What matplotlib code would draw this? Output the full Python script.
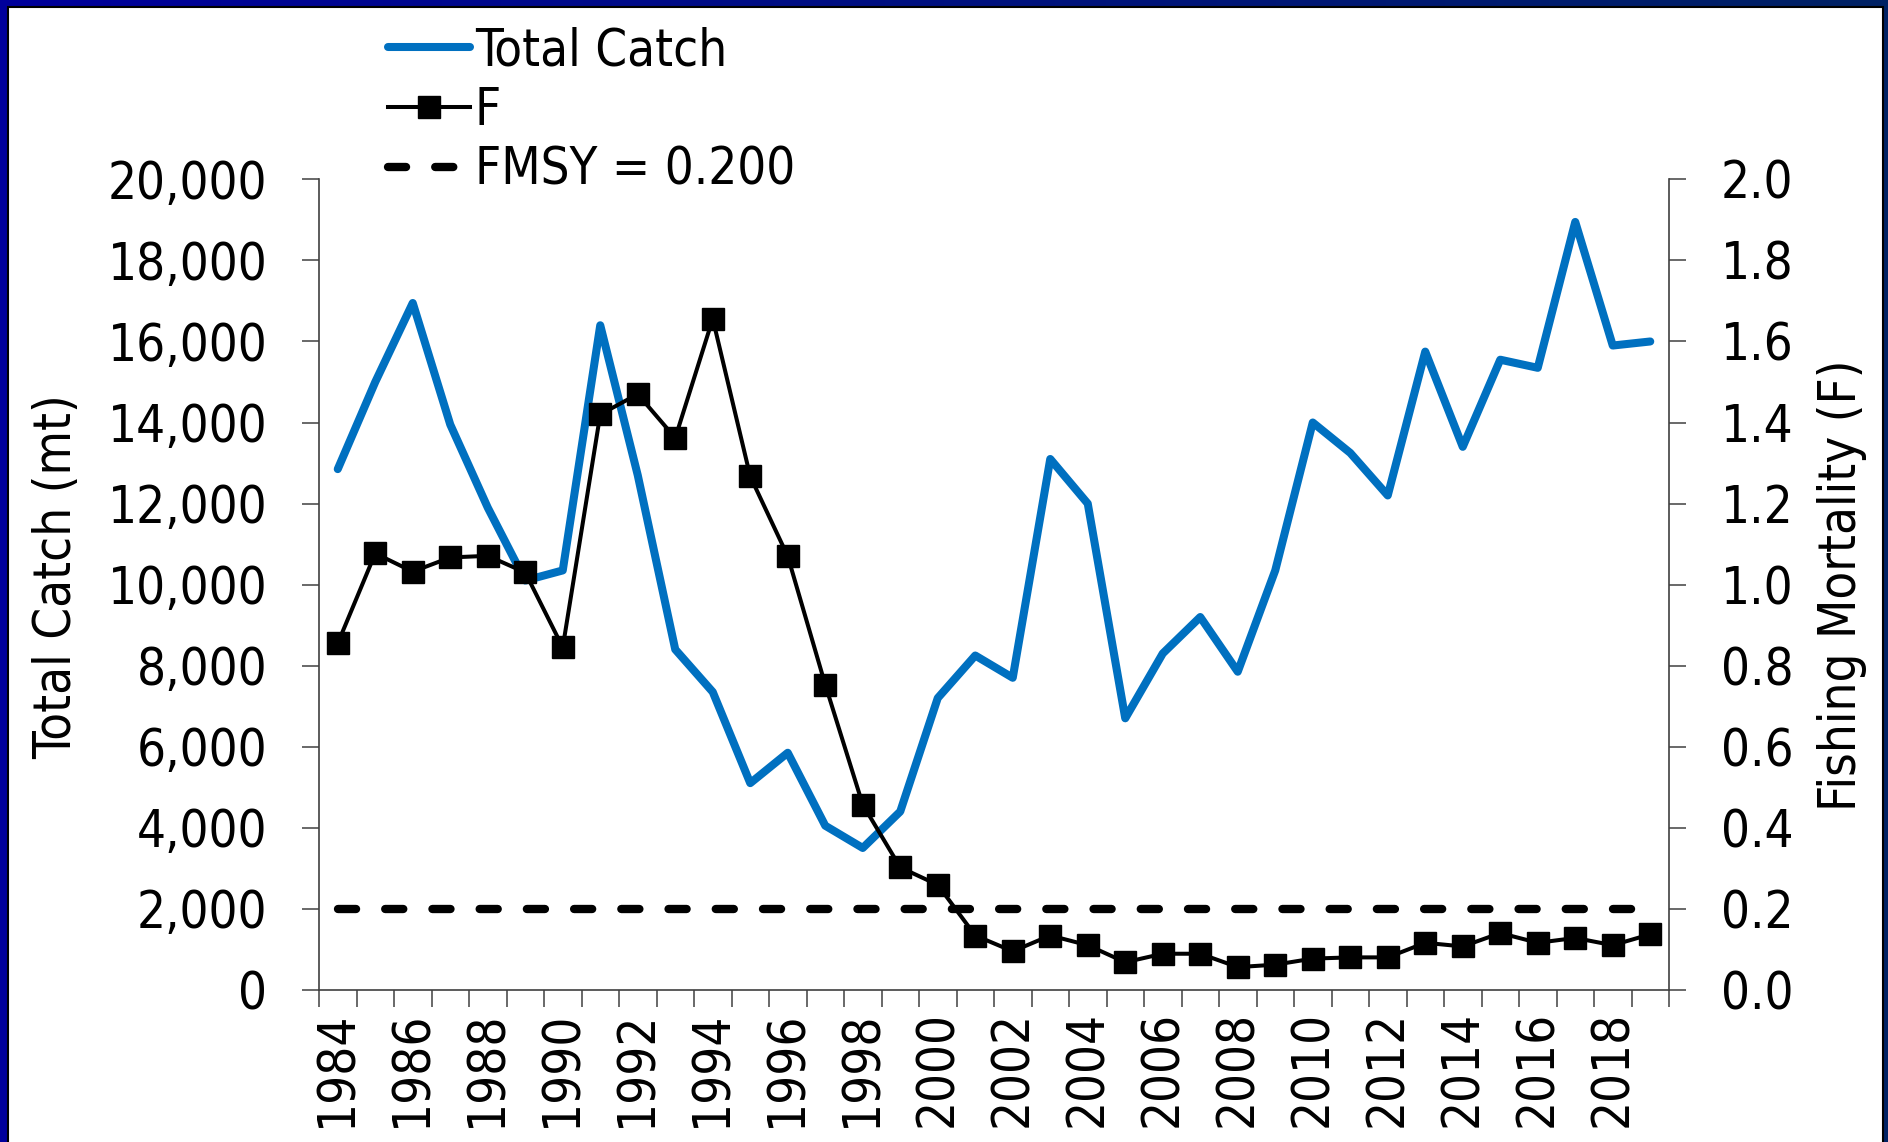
import numpy as np
import matplotlib
matplotlib.use("Agg")
import matplotlib.pyplot as plt
from matplotlib import font_manager as fm
from matplotlib.patches import Rectangle
from matplotlib.ticker import FixedLocator, FixedFormatter, NullFormatter, FuncFormatter

# ---------------- data ----------------
years = list(range(1984, 2020))
total_catch = [12850, 15000, 16950, 13950, 11900, 10100, 10350, 16400, 12700, 8400,
               7350, 5100, 5850, 4050, 3500, 4400, 7200, 8250, 7700, 13100,
               12000, 6700, 8300, 9200, 7850, 10350, 14000, 13250, 12200, 15750,
               13400, 15550, 15350, 18950, 15900, 16000]
f_values = [0.855, 1.077, 1.032, 1.067, 1.071, 1.030, 0.845, 1.420, 1.470, 1.362,
            1.656, 1.267, 1.070, 0.753, 0.457, 0.302, 0.259, 0.134, 0.095, 0.134,
            0.110, 0.068, 0.089, 0.089, 0.056, 0.062, 0.077, 0.080, 0.080, 0.116,
            0.107, 0.140, 0.116, 0.128, 0.110, 0.137]
fmsy = 0.200
fmsy_values = [fmsy] * len(years)
year_labels = list(range(1984, 2019, 2))
catch_ticks = list(range(0, 20001, 2000))
f_ticks = [0.0, 0.2, 0.4, 0.6, 0.8, 1.0, 1.2, 1.4, 1.6, 1.8, 2.0]
labels = ["Total Catch", "F", "FMSY = 0.200"]

# ---------------- fonts ----------------
fp = fm.FontProperties(family="DejaVu Sans", stretch="condensed")
path = fm.findfont(fp)
condensed = "Condensed" in path
plt.rcParams["font.family"] = "DejaVu Sans"
if condensed:
    plt.rcParams["font.stretch"] = "condensed"
    FS = 36.5
else:
    FS = 34
plt.rcParams["lines.scale_dashes"] = False

W, H = 1888, 1142
fig = plt.figure(figsize=(W / 100, H / 100), dpi=100)

# background frame with gradient blue border
bg = fig.add_axes([0, 0, 1, 1], zorder=-10)
t = np.linspace(0, 1, 256)
left_c = np.array([0, 0, 155]) / 255
right_c = np.array([0, 34, 100]) / 255
grad = (left_c[None, :] * (1 - t[:, None]) + right_c[None, :] * t[:, None])[None, :, :]
bg.imshow(grad, extent=[0, 1, 0, 1], aspect="auto")
bg.add_patch(Rectangle((7.5 / W, -0.05), (1883 - 7.5) / W, 1.05 - 6.5 / H,
                       facecolor="white", edgecolor="black", lw=1.5))
bg.set_xlim(0, 1)
bg.set_ylim(0, 1)
bg.axis("off")

ax = fig.add_axes([319 / W, 1 - 989.8 / H, 1350 / W, 810.4 / H])
ax.set_facecolor("none")
ax2 = ax.twinx()

l1, = ax.plot(years, total_catch, color="#0070C0", lw=5.8,
              solid_capstyle="round", solid_joinstyle="round", label=labels[0])
l2, = ax2.plot(years, f_values, color="black", lw=2.9, marker="s", ms=15.8,
               mec="black", mfc="black", label=labels[1])
l3, = ax2.plot(years, fmsy_values, color="black", lw=6, linestyle=(0, (13, 21)),
               dash_capstyle="round", label=labels[2])

ax.set_xlim(1983.5, 2019.5)
ax.set_ylim(0, 20000)
ax2.set_ylim(0, 2.0)

spine_c = "#404040"
for a in (ax, ax2):
    a.spines["top"].set_visible(False)
    for s in a.spines.values():
        s.set_color(spine_c)
        s.set_linewidth(1.2)
ax.spines["right"].set_visible(False)
ax2.spines["left"].set_visible(False)
ax2.spines["bottom"].set_visible(False)

# x axis: ticks between categories, labels every other year
ax.xaxis.set_major_locator(FixedLocator(np.arange(1983.5, 2019.6, 1.0)))
ax.xaxis.set_major_formatter(NullFormatter())
ax.xaxis.set_minor_locator(FixedLocator(year_labels))
ax.xaxis.set_minor_formatter(FixedFormatter([str(y) for y in year_labels]))
ax.tick_params(axis="x", which="major", direction="out", length=12.2, width=1.1, color=spine_c)
ax.tick_params(axis="x", which="minor", length=0, pad=15, labelsize=FS, labelrotation=90)

ax.set_yticks(catch_ticks)
ax.yaxis.set_major_formatter(FuncFormatter(lambda v, p: f"{v:,.0f}"))
ax.tick_params(axis="y", direction="out", length=12.2, width=1.1, color=spine_c,
               pad=25, labelsize=FS)
ax2.set_yticks(f_ticks)
ax2.yaxis.set_major_formatter(FuncFormatter(lambda v, p: f"{v:.1f}"))
ax2.tick_params(axis="y", direction="out", length=12.2, width=1.1, color=spine_c,
                pad=25, labelsize=FS)

fig.text(57 / W, 1 - 577 / H, "Total Catch (mt)", rotation=90, ha="center",
         va="center", fontsize=FS)
fig.text(1842 / W, 1 - 585 / H, "Fishing Mortality (F)", rotation=90, ha="center",
         va="center", fontsize=FS)

fig.legend([l1, l2, l3], labels, loc="upper left",
           bbox_to_anchor=(388 / W, 1 - 26 / H), bbox_transform=fig.transFigure,
           frameon=False, fontsize=FS, handlelength=1.61, handletextpad=0.1,
           labelspacing=0.19, borderpad=0, borderaxespad=0, numpoints=1)

fig.savefig("out.png", dpi=100)
